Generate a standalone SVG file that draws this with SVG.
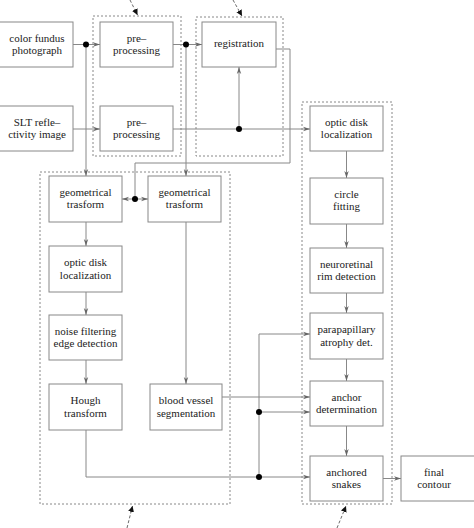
<svg xmlns="http://www.w3.org/2000/svg" width="474" height="528" viewBox="0 0 474 528">
<defs>
<marker id="ah" markerWidth="8" markerHeight="6" refX="7" refY="3" orient="auto" markerUnits="userSpaceOnUse">
<path d="M0,0.8 L7,3 L0,5.2 L2,3 Z" fill="#666"/>
</marker>
<marker id="pa" markerWidth="8" markerHeight="8" refX="6" refY="3" orient="auto" markerUnits="userSpaceOnUse">
<path d="M0,0 L6,3 L0,6 Z" fill="#111"/>
</marker>
<style>
.box{fill:#fff;stroke:#888;stroke-width:1}
.grp{fill:none;stroke:#888;stroke-width:1;stroke-dasharray:2,2}
.ln{fill:none;stroke:#888;stroke-width:1}
.ar{marker-end:url(#ah)}
.dot{fill:#000}
.ptr{fill:none;stroke:#444;stroke-width:0.8;stroke-dasharray:3,2;marker-end:url(#pa)}
text{font-family:"Liberation Serif","Times New Roman",serif;font-size:11px;fill:#222;text-anchor:middle}
</style>
</defs>
<rect width="474" height="528" fill="#fff"/>
<g id="groups">
<rect class="grp" x="93" y="16" width="88" height="140"/>
<rect class="grp" x="196" y="17" width="87" height="139"/>
<rect class="grp" x="302" y="102" width="90" height="402"/>
<rect class="grp" x="40" y="172" width="190" height="332"/>
</g>
<g id="connectors">
<line class="ln ar" x1="73" y1="44.5" x2="100" y2="44.5"/>
<line class="ln ar" x1="86" y1="44.5" x2="86" y2="176"/>
<line class="ln ar" x1="73" y1="129" x2="100" y2="129"/>
<line class="ln ar" x1="173" y1="44.5" x2="202" y2="44.5"/>
<line class="ln ar" x1="186" y1="44.5" x2="186" y2="176"/>
<line class="ln ar" x1="173" y1="129" x2="310" y2="129"/>
<line class="ln ar" x1="239" y1="129" x2="239" y2="67"/>
<polyline class="ln" points="276,49 290,49 290,163 135,163 135,199"/>
<line class="ln ar" x1="135" y1="199" x2="122" y2="199"/>
<line class="ln ar" x1="135" y1="199" x2="148" y2="199"/>
<line class="ln ar" x1="86" y1="222" x2="86" y2="246"/>
<line class="ln ar" x1="86" y1="292" x2="86" y2="315"/>
<line class="ln ar" x1="86" y1="360" x2="86" y2="384"/>
<line class="ln ar" x1="186" y1="222" x2="186" y2="384"/>
<line class="ln ar" x1="222" y1="397" x2="310" y2="397"/>
<polyline class="ln ar" points="86,430 86,477 310,477"/>
<polyline class="ln ar" points="259,477 259,334 310,334"/>
<line class="ln ar" x1="259" y1="412" x2="310" y2="412"/>
<line class="ln ar" x1="346.5" y1="151" x2="346.5" y2="178"/>
<line class="ln ar" x1="346.5" y1="224" x2="346.5" y2="248"/>
<line class="ln ar" x1="346.5" y1="293" x2="346.5" y2="313"/>
<line class="ln ar" x1="346.5" y1="359" x2="346.5" y2="381"/>
<line class="ln ar" x1="346.5" y1="426" x2="346.5" y2="456"/>
<line class="ln ar" x1="383" y1="478.5" x2="401" y2="478.5"/>
<circle class="dot" cx="86" cy="44.5" r="3"/>
<circle class="dot" cx="186" cy="44.5" r="3"/>
<circle class="dot" cx="239" cy="129" r="3"/>
<circle class="dot" cx="135" cy="199" r="3"/>
<circle class="dot" cx="259" cy="412" r="3"/>
<circle class="dot" cx="259" cy="477" r="3"/>
<line class="ptr" x1="130" y1="0" x2="137.5" y2="15"/>
<line class="ptr" x1="233" y1="0" x2="242" y2="16"/>
<line class="ptr" x1="127" y1="528" x2="132.5" y2="506"/>
<line class="ptr" x1="337" y1="528" x2="346" y2="506"/>
</g>
<g id="n-fundus"><rect class="box" x="-1" y="22" width="74" height="45"/><text x="37" y="41.5">color fundus</text><text x="37" y="54">photograph</text></g>
<g id="n-slt"><rect class="box" x="-1" y="106" width="74" height="45"/><text x="37" y="125.5">SLT refle–</text><text x="37" y="138">ctivity image</text></g>
<g id="n-pre1"><rect class="box" x="100" y="22" width="73" height="45"/><text x="136.5" y="41.5">pre–</text><text x="136.5" y="54">processing</text></g>
<g id="n-pre2"><rect class="box" x="100" y="106" width="73" height="45"/><text x="136.5" y="125.5">pre–</text><text x="136.5" y="138">processing</text></g>
<g id="n-reg"><rect class="box" x="202" y="22" width="74" height="45"/><text x="239" y="47">registration</text></g>
<g id="n-geo1"><rect class="box" x="49" y="176" width="73" height="46"/><text x="85.5" y="196">geometrical</text><text x="85.5" y="208">trasform</text></g>
<g id="n-geo2"><rect class="box" x="148" y="176" width="73" height="46"/><text x="184.5" y="196">geometrical</text><text x="184.5" y="208">trasform</text></g>
<g id="n-odl1"><rect class="box" x="49" y="246" width="73" height="46"/><text x="85.5" y="266">optic disk</text><text x="85.5" y="278.5">localization</text></g>
<g id="n-noise"><rect class="box" x="49" y="315" width="73" height="45"/><text x="85.5" y="334.5">noise filtering</text><text x="85.5" y="347">edge detection</text></g>
<g id="n-hough"><rect class="box" x="49" y="384" width="73" height="46"/><text x="85.5" y="404">Hough</text><text x="85.5" y="416.5">transform</text></g>
<g id="n-blood"><rect class="box" x="150" y="384" width="72" height="46"/><text x="186" y="404">blood vessel</text><text x="186" y="416.5">segmentation</text></g>
<g id="n-odl2"><rect class="box" x="310" y="106" width="73" height="45"/><text x="346.5" y="125.5">optic disk</text><text x="346.5" y="138">localization</text></g>
<g id="n-circle"><rect class="box" x="310" y="178" width="73" height="46"/><text x="346.5" y="197.5">circle</text><text x="346.5" y="210">fitting</text></g>
<g id="n-neuro"><rect class="box" x="310" y="248" width="73" height="45"/><text x="346.5" y="267.5">neuroretinal</text><text x="346.5" y="280">rim detection</text></g>
<g id="n-para"><rect class="box" x="310" y="313" width="73" height="46"/><text x="346.5" y="333">parapapillary</text><text x="346.5" y="345.5">atrophy det.</text></g>
<g id="n-anchor"><rect class="box" x="310" y="381" width="73" height="45"/><text x="346.5" y="400.5">anchor</text><text x="346.5" y="413">determination</text></g>
<g id="n-snakes"><rect class="box" x="310" y="456" width="73" height="45"/><text x="346.5" y="475.5">anchored</text><text x="346.5" y="488">snakes</text></g>
<g id="n-final"><rect class="box" x="401" y="456" width="76" height="45"/><text x="434" y="475.5">final</text><text x="434" y="488">contour</text></g>
</svg>
